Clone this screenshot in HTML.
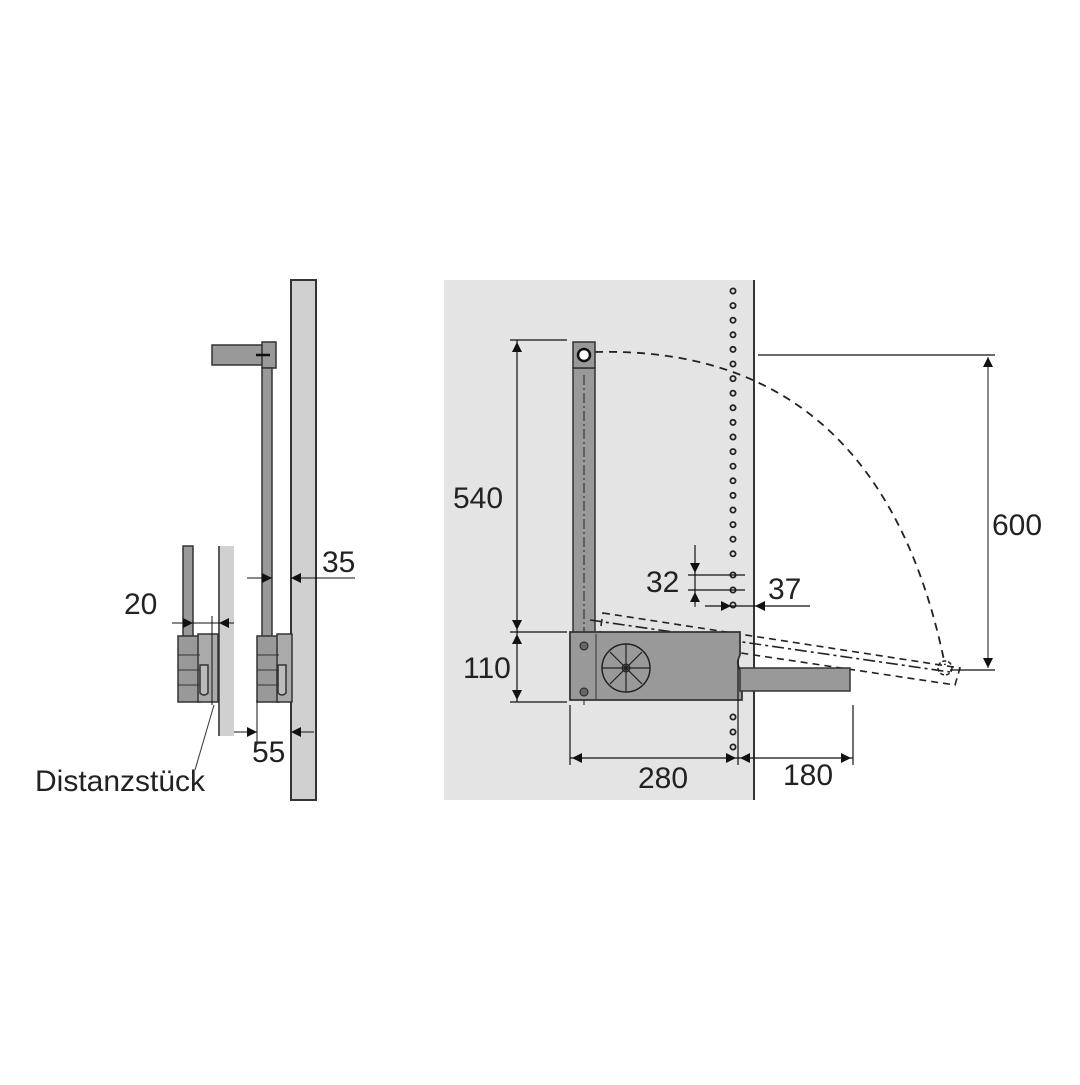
<!DOCTYPE html>
<html><head><style>
html,body{margin:0;padding:0;background:#fff;}
svg text{font-family:"Liberation Sans",sans-serif;font-size:30px;fill:#222;}
</style></head><body>
<svg width="1080" height="1080" viewBox="0 0 1080 1080" xmlns="http://www.w3.org/2000/svg">
<defs>
<marker id="a" viewBox="0 0 10 10" refX="10" refY="5" markerWidth="20" markerHeight="10" markerUnits="userSpaceOnUse" orient="auto-start-reverse"><path d="M0,0 L10,5 L0,10z" fill="#111"/></marker>
</defs>
<!-- LEFT -->
<rect x="291" y="280" width="25" height="520" fill="#d0d0d0" stroke="#333" stroke-width="2"/>
<rect x="218" y="546" width="16" height="190" fill="#d0d0d0"/>
<line x1="219" y1="546" x2="219" y2="736" stroke="#333" stroke-width="1.5"/>
<rect x="183" y="546" width="10" height="92" fill="#999" stroke="#333" stroke-width="1.5"/>
<rect x="178" y="636" width="22" height="66" fill="#999" stroke="#333" stroke-width="1.5"/>
<rect x="198" y="634" width="20" height="68" fill="#aaa" stroke="#333" stroke-width="1.5"/>
<path d="M200,665 h8 v28 q-4,4 -8,0z" fill="#bbb" stroke="#333" stroke-width="1.5"/>
<line x1="178" y1="655" x2="200" y2="655" stroke="#333"/><line x1="178" y1="670" x2="200" y2="670" stroke="#333"/><line x1="178" y1="685" x2="200" y2="685" stroke="#333"/>
<rect x="212" y="345" width="52" height="20" fill="#999" stroke="#333" stroke-width="1.5"/>
<rect x="262" y="342" width="14" height="26" fill="#999" stroke="#333" stroke-width="1.5"/>
<line x1="256" y1="355" x2="270" y2="355" stroke="#111" stroke-width="2.5"/>
<rect x="262" y="368" width="10" height="270" fill="#999" stroke="#333" stroke-width="1.5"/>
<rect x="257" y="636" width="22" height="66" fill="#999" stroke="#333" stroke-width="1.5"/>
<rect x="277" y="634" width="15" height="68" fill="#aaa" stroke="#333" stroke-width="1.5"/>
<path d="M278,665 h8 v28 q-4,4 -8,0z" fill="#bbb" stroke="#333" stroke-width="1.5"/>
<line x1="257" y1="655" x2="279" y2="655" stroke="#333"/><line x1="257" y1="670" x2="279" y2="670" stroke="#333"/><line x1="257" y1="685" x2="279" y2="685" stroke="#333"/>
<line x1="172" y1="623" x2="193" y2="623" stroke="#111" marker-end="url(#a)"/>
<line x1="234" y1="623" x2="219" y2="623" stroke="#111" marker-end="url(#a)"/>
<line x1="193" y1="623" x2="219" y2="623" stroke="#111"/>
<line x1="212" y1="616" x2="212" y2="705" stroke="#111"/>
<text x="124" y="614">20</text>
<line x1="247" y1="578" x2="272" y2="578" stroke="#111" marker-end="url(#a)"/>
<line x1="355" y1="578" x2="291" y2="578" stroke="#111" marker-end="url(#a)"/>
<text x="322" y="572">35</text>
<line x1="234" y1="732" x2="257" y2="732" stroke="#111" marker-end="url(#a)"/>
<line x1="314" y1="732" x2="291" y2="732" stroke="#111" marker-end="url(#a)"/>
<line x1="257" y1="700" x2="257" y2="745" stroke="#111"/>
<text x="252" y="762">55</text>
<line x1="214" y1="705" x2="195" y2="770" stroke="#333"/>
<text x="35" y="791" textLength="170" lengthAdjust="spacingAndGlyphs">Distanzstück</text>
<!-- RIGHT -->
<rect x="444" y="280" width="310" height="520" fill="#e4e4e4"/>
<line x1="754" y1="280" x2="754" y2="800" stroke="#333" stroke-width="2"/>
<g fill="none" stroke="#222" stroke-width="1.8">
<circle cx="733" cy="291" r="2.6"/><circle cx="733" cy="305.6" r="2.6"/><circle cx="733" cy="320.2" r="2.6"/><circle cx="733" cy="334.8" r="2.6"/><circle cx="733" cy="349.4" r="2.6"/><circle cx="733" cy="364" r="2.6"/><circle cx="733" cy="378.6" r="2.6"/><circle cx="733" cy="393.2" r="2.6"/><circle cx="733" cy="407.8" r="2.6"/><circle cx="733" cy="422.4" r="2.6"/><circle cx="733" cy="437" r="2.6"/><circle cx="733" cy="451.6" r="2.6"/><circle cx="733" cy="466.2" r="2.6"/><circle cx="733" cy="480.8" r="2.6"/><circle cx="733" cy="495.4" r="2.6"/><circle cx="733" cy="510" r="2.6"/><circle cx="733" cy="524.6" r="2.6"/><circle cx="733" cy="539.2" r="2.6"/><circle cx="733" cy="553.8" r="2.6"/><circle cx="733" cy="575" r="2.6"/><circle cx="733" cy="590" r="2.6"/><circle cx="733" cy="605" r="2.6"/><circle cx="733" cy="717" r="2.6"/><circle cx="733" cy="732" r="2.6"/><circle cx="733" cy="747" r="2.6"/>
</g>
<path d="M595,352 Q880,345 945,665" fill="none" stroke="#222" stroke-width="1.8" stroke-dasharray="8,6"/>
<rect x="573" y="368" width="22" height="266" fill="#999" stroke="#333" stroke-width="1.5"/>
<rect x="573" y="342" width="22" height="26" fill="#999" stroke="#333" stroke-width="1.5"/>
<circle cx="584" cy="355" r="6" fill="#fff" stroke="#111" stroke-width="2.5"/>
<line x1="584" y1="375" x2="584" y2="705" stroke="#222" stroke-dasharray="10,3,2,3"/>
<g fill="none" stroke="#222" stroke-width="1.6" stroke-dasharray="7,5">
<path d="M603,613 L960,668 L955,685 L600,632z"/>
<line x1="590" y1="620" x2="950" y2="672" stroke-dasharray="12,4,3,4"/>
</g>
<circle cx="945" cy="668" r="7" fill="none" stroke="#222" stroke-width="1.5" stroke-dasharray="4,2"/>
<path d="M570,632 H740 V655 Q735,665 742,672 V700 H570z" fill="#999" stroke="#333" stroke-width="1.8"/>
<line x1="596" y1="634" x2="596" y2="700" stroke="#333"/>
<circle cx="584" cy="646" r="4" fill="#666" stroke="#222"/>
<circle cx="584" cy="692" r="4" fill="#666" stroke="#222"/>
<circle cx="626" cy="668" r="24" fill="none" stroke="#222" stroke-width="1.5"/>
<circle cx="626" cy="668" r="4" fill="#555" stroke="#222"/>
<g stroke="#222" stroke-width="1.2"><line x1="602" y1="668" x2="650" y2="668"/><line x1="626" y1="644" x2="626" y2="692"/><line x1="610" y1="652" x2="642" y2="684"/><line x1="642" y1="652" x2="610" y2="684"/></g>
<rect x="740" y="668" width="110" height="23" fill="#999" stroke="#333" stroke-width="1.5"/>
<g stroke="#111" stroke-width="1.2">
<line x1="510" y1="340" x2="567" y2="340"/>
<line x1="510" y1="632" x2="567" y2="632"/>
<line x1="510" y1="702" x2="567" y2="702"/>
<line x1="517" y1="340" x2="517" y2="702"/>
<line x1="758" y1="355" x2="995" y2="355"/>
<line x1="950" y1="670" x2="995" y2="670"/>
<line x1="570" y1="705" x2="570" y2="765"/>
<line x1="738" y1="660" x2="738" y2="765"/>
<line x1="853" y1="705" x2="853" y2="765"/>
<line x1="570" y1="758" x2="853" y2="758"/>
<line x1="695" y1="545" x2="695" y2="605"/>
<line x1="688" y1="575" x2="745" y2="575"/>
<line x1="688" y1="590" x2="745" y2="590"/>
<line x1="705" y1="606" x2="810" y2="606"/>
</g>
<line x1="517" y1="400" x2="517" y2="342" stroke="#111" marker-end="url(#a)"/>
<line x1="517" y1="580" x2="517" y2="630" stroke="#111" marker-end="url(#a)"/>
<line x1="517" y1="660" x2="517" y2="634" stroke="#111" marker-end="url(#a)"/>
<line x1="517" y1="680" x2="517" y2="700" stroke="#111" marker-end="url(#a)"/>
<line x1="988" y1="400" x2="988" y2="357" stroke="#111" marker-end="url(#a)"/>
<line x1="988" y1="620" x2="988" y2="668" stroke="#111" marker-end="url(#a)"/>
<line x1="988" y1="400" x2="988" y2="620" stroke="#111"/>
<line x1="600" y1="758" x2="572" y2="758" stroke="#111" marker-end="url(#a)"/>
<line x1="710" y1="758" x2="736" y2="758" stroke="#111" marker-end="url(#a)"/>
<line x1="770" y1="758" x2="740" y2="758" stroke="#111" marker-end="url(#a)"/>
<line x1="830" y1="758" x2="851" y2="758" stroke="#111" marker-end="url(#a)"/>
<line x1="695" y1="550" x2="695" y2="573" stroke="#111" marker-end="url(#a)"/>
<line x1="695" y1="607" x2="695" y2="592" stroke="#111" marker-end="url(#a)"/>
<line x1="708" y1="606" x2="731" y2="606" stroke="#111" marker-end="url(#a)"/>
<line x1="775" y1="606" x2="755" y2="606" stroke="#111" marker-end="url(#a)"/>
<text x="453" y="508">540</text>
<text x="463" y="678">110</text>
<text x="992" y="535">600</text>
<text x="646" y="592">32</text>
<text x="768" y="599">37</text>
<text x="638" y="788">280</text>
<text x="783" y="785">180</text>
</svg>
</body></html>
